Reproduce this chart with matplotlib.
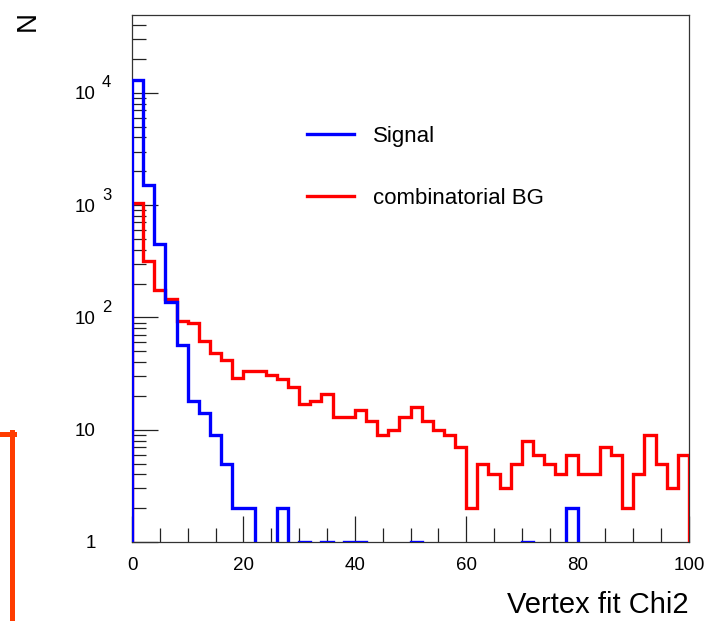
import matplotlib
matplotlib.use('Agg')
import numpy as np
import matplotlib.pyplot as plt
from matplotlib.ticker import FixedLocator, FixedFormatter, LogLocator, NullFormatter
from matplotlib.lines import Line2D

plt.rcParams['font.family'] = ['Liberation Sans', 'DejaVu Sans']

# histogram binning: 50 bins of width 2 on [0, 100]
bin_edges = np.arange(0, 101, 2)

# Signal counts per bin
signal = [13000, 1500, 450, 138, 57, 18, 14, 9, 5, 2,
          2, 0, 0, 2, 0, 1, 0, 1, 0, 1,
          1, 0, 0, 0, 0, 1, 0, 0, 0, 0,
          0, 0, 0, 0, 0, 1, 0, 0, 0, 2,
          0, 0, 0, 0, 0, 0, 0, 0, 0, 0]

# combinatorial background counts per bin
background = [1050, 320, 175, 147, 93, 90, 62, 48, 42, 29,
              33, 33, 31, 28, 24, 17, 18, 21, 13, 13,
              15, 12, 9, 10, 13, 16, 12, 10, 9, 7,
              2, 5, 4, 3, 5, 8, 6, 5, 4, 6,
              4, 4, 7, 6, 2, 4, 9, 5, 3, 6]

y_decades = [1, 10, 100, 1000, 10000]
y_labels = ['1', '10', '10', '10', '10']
y_exponents = {100: '2', 1000: '3', 10000: '4'}


def outline(values):
    # ROOT-like histogram outline: drops to the floor at both ends
    xs = np.repeat(bin_edges, 2)
    ys = np.concatenate([[0.1], np.repeat(np.maximum(values, 0.1), 2), [0.1]])
    return xs, ys


fig = plt.figure(figsize=(7.09, 6.21), dpi=100)
fig.patch.set_facecolor('white')
ax = fig.add_axes([132 / 709, 1 - 542 / 621, 557 / 709, 527 / 621])

xs, ys = outline(background)
ax.plot(xs, ys, color='red', lw=2.4, solid_joinstyle='miter', zorder=3)
xs, ys = outline(signal)
ax.plot(xs, ys, color='blue', lw=2.4, solid_joinstyle='miter', zorder=4)

ax.set_yscale('log')
ax.set_xlim(0, 100)
ax.set_ylim(1, 4.93e4)

# ticks: inside, left and bottom only
ax.xaxis.set_major_locator(FixedLocator([0, 20, 40, 60, 80, 100]))
ax.xaxis.set_minor_locator(FixedLocator(np.arange(0, 101, 5)))
ax.yaxis.set_major_locator(FixedLocator(y_decades))
ax.yaxis.set_major_formatter(FixedFormatter(y_labels))
ax.yaxis.set_minor_locator(LogLocator(base=10, subs=np.arange(2, 10)))
ax.yaxis.set_minor_formatter(NullFormatter())
ax.tick_params(axis='both', which='both', direction='in', color='#222222', width=0.9)
ax.tick_params(axis='both', which='major', length=19, labelsize=13.5)
ax.tick_params(axis='both', which='minor', length=10)
ax.tick_params(axis='y', which='major', pad=26)
ax.tick_params(axis='x', which='major', pad=11)
for sp in ax.spines.values():
    sp.set_color('#333333')
    sp.set_linewidth(0.9)

# exponents of the decade labels
for val, exp in y_exponents.items():
    ax.annotate(exp, xy=(-0.054, val), xycoords=ax.get_yaxis_transform(),
                xytext=(0, 4), textcoords='offset points',
                ha='left', va='baseline', fontsize=12)

ax.set_xlabel('Vertex fit Chi2', fontsize=21, ha='right')
ax.xaxis.set_label_coords(1.0, -0.093)
fig.text(28 / 709, 1 - 21 / 621, 'N', rotation=90, fontsize=20, ha='center', va='center')

handles = [Line2D([], [], color='blue', lw=2.4), Line2D([], [], color='red', lw=2.4)]
ax.legend(handles, ['Signal', 'combinatorial BG'], loc='upper left',
          bbox_to_anchor=(307 / 709, 1 - 126 / 621), bbox_transform=fig.transFigure,
          frameon=False, fontsize=16, handlelength=2.1, handletextpad=0.85,
          labelspacing=1.85, borderpad=0, borderaxespad=0)

# edge of a neighbouring frame on the left
fig.add_artist(Line2D([12 / 709, 12 / 709], [0, 1 - 432 / 621], color='#ff3c00', lw=3.6,
                      transform=fig.transFigure))
fig.add_artist(Line2D([0, 14 / 709], [1 - 434 / 621, 1 - 434 / 621], color='#ff3c00', lw=3.6,
                      transform=fig.transFigure))

fig.savefig('out.png', dpi=100)
